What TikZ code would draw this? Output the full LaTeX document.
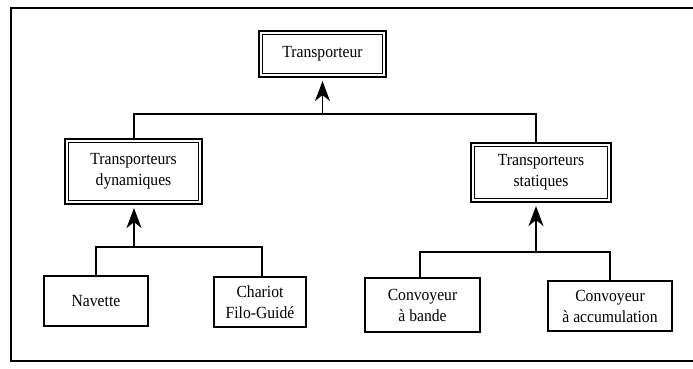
\documentclass[tikz,border=0pt]{standalone}
\usepackage{fontspec}
\setmainfont{Liberation Serif}[FakeStretch=0.92]
\usetikzlibrary{arrows.meta}
\begin{document}
\begin{tikzpicture}[x=1pt,y=-1pt,
  box/.style={draw, line width=2.1pt, rectangle, align=center, inner sep=0pt,
    font=\fontsize{17}{21}\selectfont},
  inbox/.style={draw, line width=1.5pt},
  conn/.style={draw, line width=1.8pt},
  up/.style={conn, -{Stealth[length=20pt,width=15pt,inset=6pt]}}]
\useasboundingbox (0,0) rectangle (693,368);
\draw[line width=2.5pt] (693,8) -- (11,8) -- (11,361) -- (693,361);

\node[box, minimum width=127pt, minimum height=46pt] (T) at (322.5,54) {Transporteur};
\node[box, minimum width=137pt, minimum height=65pt] (D) at (133.5,171.5) {Transporteurs\\dynamiques};
\node[box, minimum width=140pt, minimum height=59pt] (S) at (541,172.5) {Transporteurs\\statiques};
\node[box, minimum width=104pt, minimum height=50pt] (N) at (96,301) {Navette};
\node[box, minimum width=92pt, minimum height=50pt] (C) at (260,302) {Chariot\\Filo-Guidé};
\node[box, minimum width=115pt, minimum height=54pt] (B) at (422.5,305) {Convoyeur\\à bande};
\node[box, minimum width=124pt, minimum height=50pt] (A) at (610,306) {Convoyeur\\à accumulation};

\foreach \n in {T,D,S}
  \draw[inbox] ([xshift=4.5pt,yshift=-4.5pt]\n.north west) rectangle ([xshift=-4.5pt,yshift=4.5pt]\n.south east);

% level 1
\coordinate (h1L) at (134,114);
\coordinate (h1R) at (536,114);
\draw[conn] (D.north -| h1L) -- (h1L) -- (h1R) -- (S.north -| h1R);
\draw[up] (T.south |- h1L) -- ([yshift=-3pt]T.south);

% level 2 left
\coordinate (h2L) at (96,247);
\coordinate (h2R) at (262,247);
\coordinate (h2M) at (134,247);
\draw[conn] (N.north -| h2L) -- (h2L) -- (h2R) -- (C.north -| h2R);
\draw[up] (h2M) -- ([yshift=-3pt]D.south -| h2M);

% level 2 right
\coordinate (h3L) at (420,252);
\coordinate (h3R) at (610,252);
\coordinate (h3M) at (536,252);
\draw[conn] (B.north -| h3L) -- (h3L) -- (h3R) -- (A.north -| h3R);
\draw[up] (h3M) -- ([yshift=-3pt]S.south -| h3M);
\end{tikzpicture}
\end{document}
